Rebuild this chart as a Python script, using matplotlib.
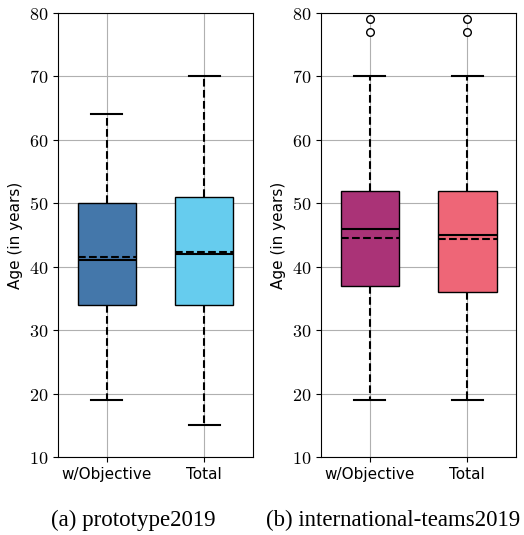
import matplotlib
matplotlib.use("Agg")
import matplotlib.pyplot as plt
from matplotlib.ticker import FuncFormatter

plt.rcParams['mathtext.fontset'] = 'cm'

# Data
groups = ['w/Objective', 'Total']
captions = ['(a) prototype2019', '(b) international-teams2019']

# prototype2019
proto_whislo = [19, 15]
proto_q1 = [34, 34]
proto_med = [41, 42]
proto_mean = [41.6, 42.3]
proto_q3 = [50, 51]
proto_whishi = [64, 70]
proto_fliers = [[], []]

# international-teams2019
intl_whislo = [19, 19]
intl_q1 = [37, 36]
intl_med = [46, 45]
intl_mean = [44.5, 44.3]
intl_q3 = [52, 52]
intl_whishi = [70, 70]
intl_fliers = [[77, 79], [77, 79]]

proto_colors = ['#4477AA', '#66CCEE']
intl_colors = ['#AA3377', '#EE6677']


def make_stats(lo, q1, med, mean, q3, hi, fliers):
    stats = []
    for i in range(len(groups)):
        stats.append(dict(whislo=lo[i], q1=q1[i], med=med[i], mean=mean[i],
                          q3=q3[i], whishi=hi[i], fliers=fliers[i], label=groups[i]))
    return stats


fig = plt.figure(figsize=(5.24, 5.35), dpi=100)
ax1 = fig.add_axes([58 / 524, 78 / 535, 195 / 524, 444 / 535])
ax2 = fig.add_axes([321 / 524, 78 / 535, 195 / 524, 444 / 535])

datasets = [
    (ax1, make_stats(proto_whislo, proto_q1, proto_med, proto_mean, proto_q3, proto_whishi, proto_fliers), proto_colors),
    (ax2, make_stats(intl_whislo, intl_q1, intl_med, intl_mean, intl_q3, intl_whishi, intl_fliers), intl_colors),
]

for ax, stats, colors in datasets:
    ax.set_axisbelow(True)
    ax.grid(True, color='#b0b0b0', linewidth=0.8)
    bp = ax.bxp(stats, positions=[1, 2], widths=0.6, capwidths=0.32,
                patch_artist=True, showmeans=True, meanline=True,
                boxprops=dict(edgecolor='black', linewidth=1.0),
                whiskerprops=dict(color='black', linestyle='--', linewidth=1.5),
                capprops=dict(color='black', linewidth=1.5),
                medianprops=dict(color='black', linewidth=1.5),
                meanprops=dict(color='black', linestyle='--', linewidth=1.5),
                flierprops=dict(marker='o', markerfacecolor='white',
                                markeredgecolor='black', markersize=5.5))
    for patch, c in zip(bp['boxes'], colors):
        patch.set_facecolor(c)
    ax.set_xlim(0.5, 2.5)
    ax.set_ylim(10, 80)
    ax.set_yticks(range(10, 81, 10))
    ax.yaxis.set_major_formatter(FuncFormatter(lambda v, p: '$%d$' % v))
    ax.tick_params(axis='y', labelsize=13)
    ax.tick_params(axis='x', labelsize=11)
    ax.set_ylabel('Age (in years)', fontsize=11)

fig.text(133 / 524, 1 - 520 / 535, captions[0], ha='center', va='center',
         fontsize=16.5, family='Liberation Serif')
fig.text(393 / 524, 1 - 520 / 535, captions[1], ha='center', va='center',
         fontsize=16.5, family='Liberation Serif')

plt.savefig('out.png', dpi=100)
